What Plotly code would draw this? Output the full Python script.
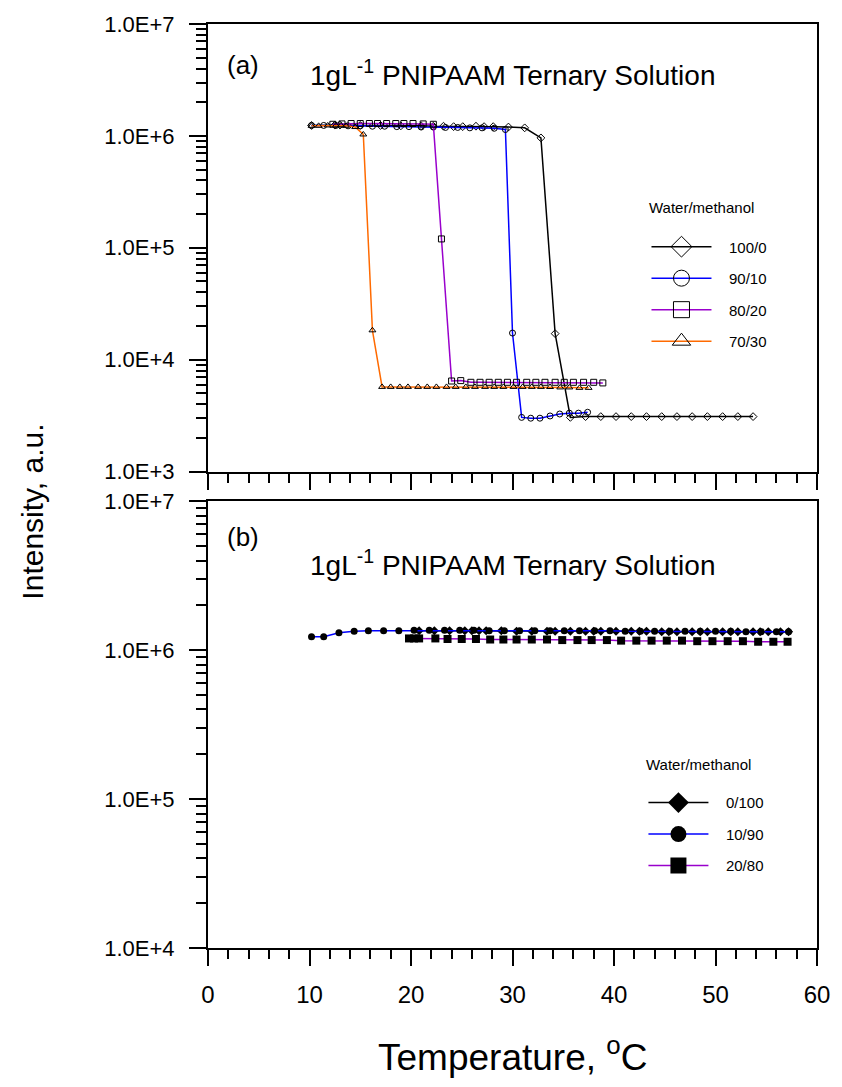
import plotly.graph_objects as go

# ---------------- data: panel (a) ----------------
T_100_0 = [10.2, 12.5, 13.0, 15.0, 17.0, 19.0, 21.0, 22.2, 23.2, 24.2, 25.1, 26.4, 27.2, 28.1, 29.6, 31.2,
           32.8, 34.2, 35.7, 37.2, 38.7, 40.2, 41.7, 43.2, 44.7, 46.2, 47.7, 49.2, 50.7, 52.2, 53.7]
I_100_0 = [1.24e6, 1.25e6, 1.25e6, 1.24e6, 1.24e6, 1.23e6, 1.23e6, 1.22e6, 1.22e6, 1.21e6, 1.21e6, 1.22e6,
           1.21e6, 1.21e6, 1.20e6, 1.18e6, 9.6e5, 1.71e4, 3.05e3, 3.1e3, 3.1e3, 3.1e3, 3.1e3, 3.1e3, 3.1e3,
           3.1e3, 3.1e3, 3.1e3, 3.1e3, 3.1e3, 3.1e3]

T_90_10 = [10.2, 11.4, 12.6, 13.8, 15.0, 16.2, 17.4, 18.6, 19.8, 21.0, 22.2, 23.4, 24.6, 25.8, 27.0, 28.2,
           29.3, 30.0, 30.9, 31.8, 32.7, 33.7, 34.65, 35.6, 36.5, 37.4]
I_90_10 = [1.24e6, 1.24e6, 1.24e6, 1.23e6, 1.23e6, 1.22e6, 1.22e6, 1.21e6, 1.21e6, 1.20e6, 1.20e6, 1.19e6,
           1.19e6, 1.18e6, 1.18e6, 1.17e6, 1.14e6, 1.73e4, 3.05e3, 3.0e3, 3.0e3, 3.14e3, 3.27e3, 3.33e3,
           3.33e3, 3.39e3]

T_80_20 = [12.3, 13.2, 14.1, 15.0, 15.9, 16.7, 17.6, 18.5, 19.3, 20.2, 21.2, 22.2, 23.0, 24.0, 24.9, 25.9,
           26.8, 27.7, 28.6, 29.5, 30.4, 31.4, 32.3, 33.2, 34.2, 35.1, 36.0, 37.0, 38.0, 38.9]
I_80_20 = [1.27e6, 1.28e6, 1.29e6, 1.29e6, 1.29e6, 1.29e6, 1.29e6, 1.29e6, 1.29e6, 1.29e6, 1.28e6, 1.27e6,
           1.2e5, 6.45e3, 6.5e3, 6.28e3, 6.28e3, 6.28e3, 6.28e3, 6.28e3, 6.28e3, 6.28e3, 6.28e3, 6.28e3,
           6.28e3, 6.28e3, 6.28e3, 6.28e3, 6.28e3, 6.2e3]

T_70_30 = [10.2, 10.9, 11.8, 12.6, 13.1, 13.6, 14.5, 15.3, 16.2, 17.15, 18.0, 18.9, 19.7, 20.7, 21.6, 22.5,
           23.5, 24.4, 25.4, 26.3, 27.3, 28.2, 29.1, 30.1, 31.0, 31.9, 32.8, 33.7, 34.7, 35.6, 36.6, 37.5]
I_70_30 = [1.23e6, 1.23e6, 1.24e6, 1.24e6, 1.24e6, 1.23e6, 1.20e6, 1.03e6, 1.83e4, 5.71e3, 5.71e3, 5.71e3,
           5.71e3, 5.71e3, 5.71e3, 5.71e3, 5.71e3, 5.71e3, 5.71e3, 5.71e3, 5.71e3, 5.71e3, 5.71e3, 5.71e3,
           5.71e3, 5.71e3, 5.71e3, 5.7e3, 5.65e3, 5.65e3, 5.6e3, 5.6e3]

# ---------------- data: panel (b) ----------------
T_0_100 = [20.8, 22.3, 23.8, 25.3, 26.0, 26.7, 27.4, 28.9, 30.4, 31.9, 33.4, 34.2, 35.7, 37.2, 38.0, 38.7,
           40.2, 41.7, 42.5, 43.2, 44.7, 45.4, 46.2, 47.7, 48.5, 49.2, 50.7, 51.5, 52.2, 53.7, 54.4, 55.2,
           56.4, 57.2]
I_0_100 = [1.35e6, 1.35e6, 1.35e6, 1.35e6, 1.35e6, 1.35e6, 1.35e6, 1.35e6, 1.34e6, 1.34e6, 1.34e6, 1.34e6,
           1.34e6, 1.34e6, 1.34e6, 1.34e6, 1.34e6, 1.34e6, 1.34e6, 1.34e6, 1.33e6, 1.33e6, 1.33e6, 1.33e6,
           1.33e6, 1.33e6, 1.33e6, 1.33e6, 1.33e6, 1.33e6, 1.33e6, 1.33e6, 1.33e6, 1.33e6]

T_10_90 = [10.2, 11.4, 12.9, 14.4, 15.8, 17.3, 18.8, 20.3, 21.8, 23.3, 24.8, 26.2, 27.7, 29.2, 30.7, 32.2,
           33.7, 35.1, 36.6, 38.1, 39.6, 41.1, 42.6, 44.0, 45.5, 47.0, 48.5, 50.0, 51.5, 53.0, 54.5, 56.0, 57.2]
I_10_90 = [1.23e6, 1.23e6, 1.31e6, 1.34e6, 1.35e6, 1.35e6, 1.35e6, 1.36e6, 1.36e6, 1.36e6, 1.36e6, 1.36e6,
           1.35e6, 1.35e6, 1.35e6, 1.35e6, 1.35e6, 1.35e6, 1.35e6, 1.35e6, 1.35e6, 1.34e6, 1.34e6, 1.34e6,
           1.34e6, 1.34e6, 1.34e6, 1.34e6, 1.34e6, 1.33e6, 1.33e6, 1.33e6, 1.33e6]

T_20_80 = [19.8, 20.3, 20.8, 22.4, 23.6, 25.0, 26.4, 27.8, 29.1, 30.4, 31.9, 33.4, 34.9, 36.4, 37.8, 39.3,
           40.7, 42.2, 43.7, 45.2, 46.7, 48.2, 49.7, 51.2, 52.7, 54.2, 55.7, 57.1]
I_20_80 = [1.20e6, 1.20e6, 1.20e6, 1.20e6, 1.19e6, 1.19e6, 1.19e6, 1.18e6, 1.18e6, 1.18e6, 1.18e6, 1.18e6,
           1.17e6, 1.17e6, 1.17e6, 1.17e6, 1.16e6, 1.16e6, 1.16e6, 1.16e6, 1.16e6, 1.15e6, 1.15e6, 1.15e6,
           1.15e6, 1.14e6, 1.14e6, 1.14e6]

Y_TICKS_A = [1e3, 1e4, 1e5, 1e6, 1e7]
Y_TICKS_B = [1e4, 1e5, 1e6, 1e7]
X_TICKS = [0, 10, 20, 30, 40, 50, 60]

FONT = "Liberation Sans, Arial, sans-serif"
BLACK, BLUE, PURPLE, ORANGE = "#000000", "#0000ff", "#9900cc", "#ff6a00"
PAD = "\u00a0\u00a0\u00a0"

fig = go.Figure()

series_a = [
    ("100/0", T_100_0, I_100_0, BLACK, "diamond-open"),
    ("90/10", T_90_10, I_90_10, BLUE, "circle-open"),
    ("80/20", T_80_20, I_80_20, PURPLE, "square-open"),
    ("70/30", T_70_30, I_70_30, ORANGE, "triangle-up-open"),
]
for name, xs, ys, col, sym in series_a:
    fig.add_trace(go.Scatter(x=xs, y=ys, mode="lines+markers", xaxis="x", yaxis="y",
                             line=dict(color=col, width=1.5),
                             marker=dict(symbol=sym, size=6, color=BLACK, line=dict(width=1)),
                             showlegend=False, hoverinfo="skip"))
for name, xs, ys, col, sym in series_a:
    fig.add_trace(go.Scatter(x=[None], y=[None], mode="lines+markers", xaxis="x", yaxis="y",
                             name=PAD + name, legend="legend", legendgroup=name,
                             line=dict(color=col, width=1.5),
                             marker=dict(symbol=sym, size=16, color=BLACK, line=dict(width=1))))

series_b = [
    ("0/100", T_0_100, I_0_100, BLACK, "diamond", 7),
    ("10/90", T_10_90, I_10_90, BLUE, "circle", 7),
    ("20/80", T_20_80, I_20_80, PURPLE, "square", 8),
]
for name, xs, ys, col, sym, sz in series_b:
    fig.add_trace(go.Scatter(x=xs, y=ys, mode="lines+markers", xaxis="x2", yaxis="y2",
                             line=dict(color=col, width=1.5),
                             marker=dict(symbol=sym, size=sz, color=BLACK),
                             showlegend=False, hoverinfo="skip"))
for name, xs, ys, col, sym, sz in series_b:
    fig.add_trace(go.Scatter(x=[None], y=[None], mode="lines+markers", xaxis="x2", yaxis="y2",
                             name=PAD + name, legend="legend2", legendgroup=name,
                             line=dict(color=col, width=1.5),
                             marker=dict(symbol=sym, size=16, color=BLACK)))


def minor_vals(lo, hi):
    out = []
    for e in range(lo, hi):
        out += [k * 10 ** e for k in range(2, 10)]
    return out


xcommon = dict(range=[0, 60], tickvals=X_TICKS, ticks="outside", ticklen=16, tickwidth=2,
               showline=True, linewidth=2, linecolor="black", mirror=True, showgrid=False,
               zeroline=False, tickcolor="black", ticklabelstandoff=8,
               minor=dict(dtick=2, ticks="outside", ticklen=9, tickwidth=2, tickcolor="black", showgrid=False),
               tickfont=dict(family=FONT, size=24, color="black"))

ycommon = dict(type="log", ticks="outside", ticklen=17, tickwidth=2, tickcolor="black",
               showline=True, linewidth=2, linecolor="black", mirror=True, showgrid=False,
               ticklabelstandoff=10, tickfont=dict(family=FONT, size=22, color="black"))

legcommon = dict(xanchor="left", yanchor="top", bgcolor="rgba(0,0,0,0)",
                 font=dict(family=FONT, size=15, color="black"),
                 itemsizing="trace", itemwidth=60, tracegroupgap=9, traceorder="grouped")

fig.update_layout(
    width=842, height=1087,
    margin=dict(l=208, r=17, t=17, b=139),
    paper_bgcolor="white", plot_bgcolor="white",
    font=dict(family=FONT, color="black"),
    xaxis=dict(xcommon, anchor="y", showticklabels=False),
    xaxis2=dict(xcommon, anchor="y2", matches="x"),
    yaxis=dict(ycommon, domain=[0.5156, 1.0], range=[3, 7], anchor="x",
               tickvals=Y_TICKS_A, ticktext=["1.0E+3", "1.0E+4", "1.0E+5", "1.0E+6", "1.0E+7"],
               minor=dict(tickvals=minor_vals(3, 7), ticks="outside", ticklen=10, tickwidth=2,
                          tickcolor="black", showgrid=False)),
    yaxis2=dict(ycommon, domain=[0.0, 0.4834], range=[4, 7], anchor="x2",
                tickvals=Y_TICKS_B, ticktext=["1.0E+4", "1.0E+5", "1.0E+6", "1.0E+7"],
                minor=dict(tickvals=minor_vals(4, 7), ticks="outside", ticklen=10, tickwidth=2,
                           tickcolor="black", showgrid=False)),
    legend=dict(legcommon, x=0.72, y=0.7766),
    legend2=dict(legcommon, x=0.715, y=0.1750),
)

ann = dict(showarrow=False, font=dict(family=FONT, size=26, color="black"), xref="paper", yref="paper")
fig.add_annotation(ann, text="(a)", x=0.0567, y=0.956, xanchor="center", yanchor="middle")
fig.add_annotation(ann, text="1gL<sup>-1</sup> PNIPAAM Ternary Solution", x=0.5, y=0.9474,
                   xanchor="center", yanchor="middle", font=dict(family=FONT, size=28, color="black"))
fig.add_annotation(ann, text="(b)", x=0.0567, y=0.4447, xanchor="center", yanchor="middle")
fig.add_annotation(ann, text="1gL<sup>-1</sup> PNIPAAM Ternary Solution", x=0.5, y=0.4168,
                   xanchor="center", yanchor="middle", font=dict(family=FONT, size=28, color="black"))

leg_title = dict(showarrow=False, xref="paper", yref="paper", text="Water/methanol",
                 xanchor="left", yanchor="middle", font=dict(family=FONT, size=15, color="black"))
fig.add_annotation(leg_title, x=0.7212, y=0.8013)
fig.add_annotation(leg_title, x=0.7164, y=0.1987)

fig.add_annotation(showarrow=False, xref="paper", yref="paper", text="Temperature, <sup>o</sup>C",
                   x=0.5, y=-0.115, xanchor="center", yanchor="middle",
                   font=dict(family=FONT, size=37, color="black"))
fig.add_annotation(showarrow=False, xref="paper", yref="paper", text="Intensity, a.u.",
                   x=(30 - 208) / 617, y=0.4726, xanchor="center", yanchor="middle", textangle=-90,
                   font=dict(family=FONT, size=30, color="black"))

fig.write_html("out.html")
